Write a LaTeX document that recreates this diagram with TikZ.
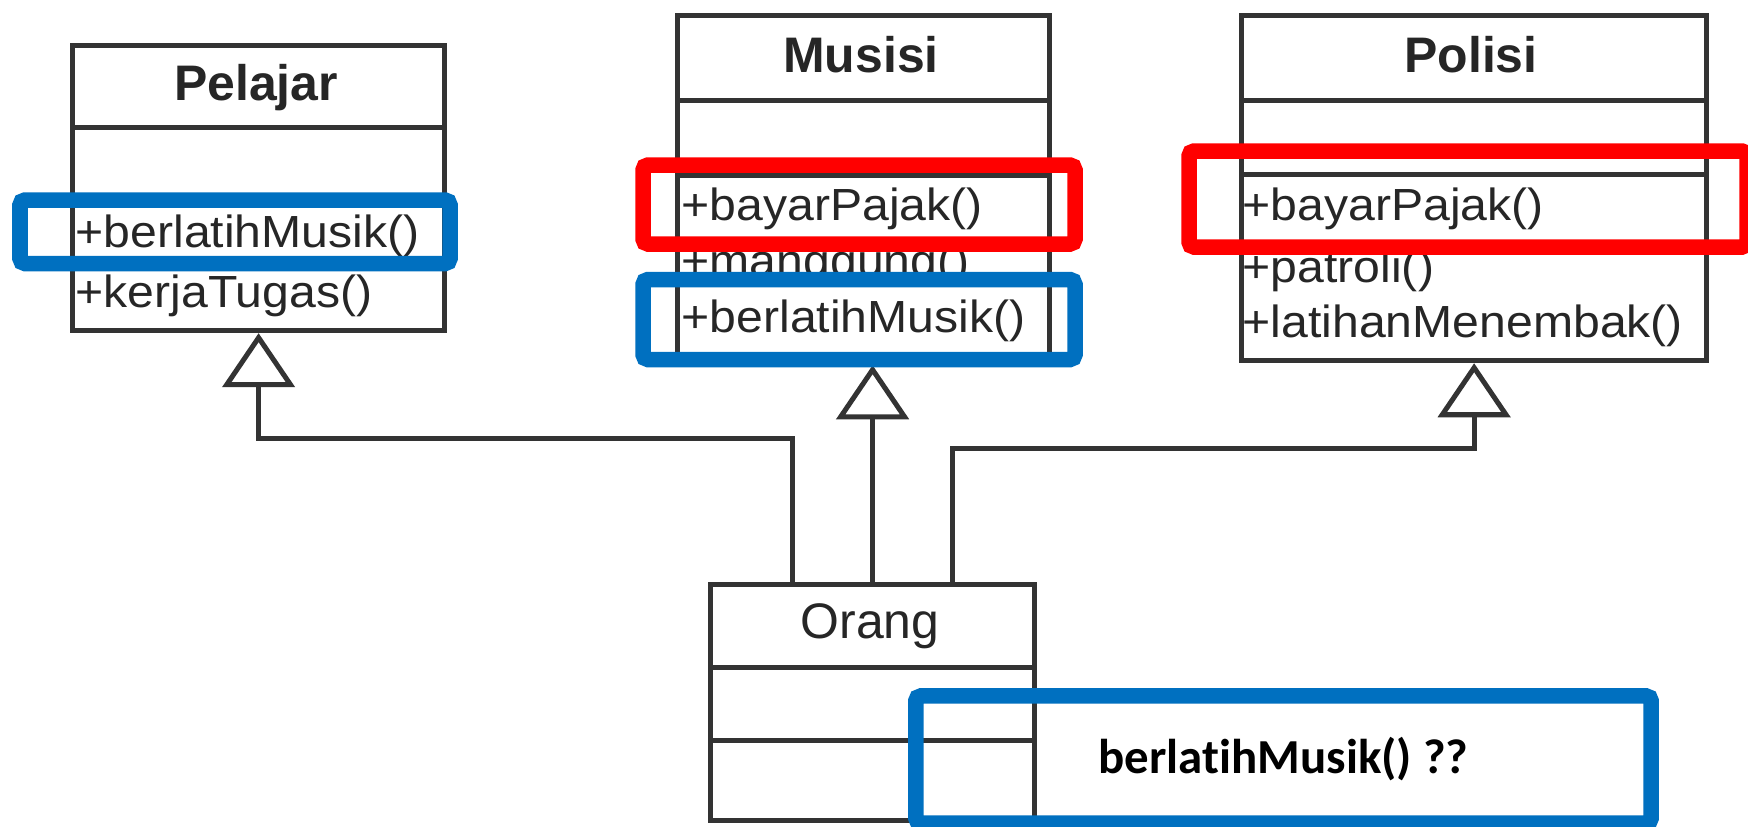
\documentclass[tikz,border=0pt]{standalone}
\usepackage{fontspec}
\setmainfont{Liberation Sans}
\newfontfamily\umlfont[FakeStretch=1.07]{Liberation Sans}
\newfontfamily\calibri[Ligatures=NoCommon]{Carlito}
\usetikzlibrary{arrows.meta}

\definecolor{sorotbiru}{RGB}{0,112,192}
\definecolor{sorotmerah}{RGB}{255,0,0}

\tikzset{
  kelas/.style={draw=black!80, line width=0.05cm, fill=white, inner sep=0pt, anchor=north west},
  garis/.style={draw=black!80, line width=0.05cm},
  judul/.style={anchor=base, inner sep=0pt, text=black!85, font=\fontsize{14.2}{16}\selectfont\bfseries},
  metode/.style={anchor=base west, inner sep=0pt, text=black!85, font=\umlfont\fontsize{12.8}{16}\selectfont},
  turunan/.style={draw=black!80, line width=0.05cm, -{Triangle[open, length=0.54cm, width=0.72cm]}},
  sorot/.style={line width=0.155cm, rounded corners=0.05cm},
}

\begin{document}
\begin{tikzpicture}[x=0.01cm, y=-0.01cm]
  \useasboundingbox (0,0) rectangle (1748,826);
  \fill[white] (0,0) rectangle (1748,826);

  % kotak kelas
  \node[kelas, minimum width=3.72cm, minimum height=2.85cm] (pelajar) at (70,43) {};
  \node[kelas, minimum width=3.72cm, minimum height=3.47cm] (musisi) at (675,13) {};
  \node[kelas, minimum width=4.65cm, minimum height=3.45cm] (polisi) at (1239,13) {};
  \node[kelas, minimum width=3.24cm, minimum height=2.36cm] (orang) at (708,582) {};

  % sekat
  \foreach \y in {127,200} \draw[garis] (70,\y) -- (442,\y);
  \foreach \y in {100,175} \draw[garis] (675,\y) -- (1047,\y);
  \foreach \y in {100,174} \draw[garis] (1239,\y) -- (1704,\y);
  \foreach \y in {667,740} \draw[garis] (708,\y) -- (1032,\y);

  % nama kelas
  \node[judul] (jPelajar) at (256,100) {Pelajar};
  \node[judul] (jMusisi) at (861,72) {Musisi};
  \node[judul] (jPolisi) at (1471,72) {Polisi};
  \node[judul, font=\fontsize{14.2}{16}\selectfont] (jOrang) at (870,638) {Orang};

  % operasi
  \node[metode] (pBerlatih) at (75,247) {+berlatihMusik()};
  \node[metode] (pKerja) at (75,307) {+kerjaTugas()};
  \node[metode] (mBayar) at (681,220) {+bayarPajak()};
  \node[metode] (mManggung) at (681,276) {+manggung()};
  \node[metode] (mBerlatih) at (681,332) {+berlatihMusik()};
  \node[metode] (kBayar) at (1242,220) {+bayarPajak()};
  \node[metode] (kPatroli) at (1242,282) {+patroli()};
  \node[metode] (kLatihan) at (1242,337) {+latihanMenembak()};

  % pewarisan
  \coordinate (kiri) at (792,438);
  \coordinate (kanan) at (952,448);
  \draw[turunan] (orang.north -| kiri) -- (kiri) -| (pelajar.south);
  \draw[turunan] (orang.north) -- (orang.north |- musisi.south);
  \draw[turunan] (orang.north -| kanan) -- (kanan) -| (polisi.south);

  % sorotan
  \draw[sorot, draw=sorotbiru] (20,200) rectangle (450,263.5);
  \draw[sorot, draw=sorotmerah] (643,165) rectangle (1075,244);
  \draw[sorot, draw=sorotbiru] (643,279.5) rectangle (1075,359.5);
  \draw[sorot, draw=sorotmerah] (1189,151) rectangle (1747,247);
  \node[sorot, draw=sorotbiru, minimum width=7.35cm, minimum height=1.27cm,
        font=\calibri\bfseries\fontsize{13.9}{16}\selectfont] (catatan) at (1283.5,759.5) {berlatihMusik() ??};
\end{tikzpicture}
\end{document}
